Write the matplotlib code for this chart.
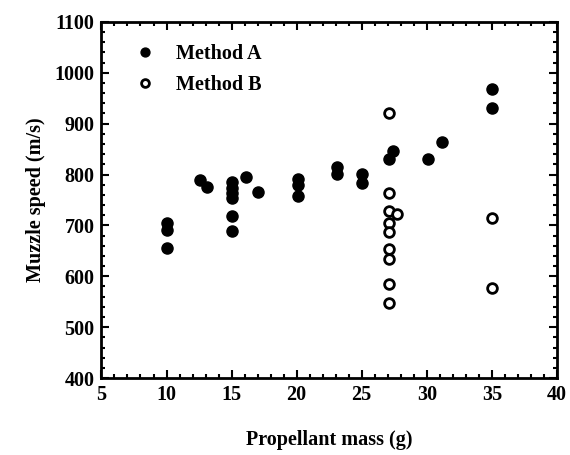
import matplotlib
matplotlib.use("Agg")
import matplotlib.pyplot as plt
from matplotlib.ticker import MultipleLocator

# Method A (filled)
a_mass = [10, 10, 10, 12.6, 13.1, 15, 15, 15, 15, 15, 15, 16.1, 17.05,
          20.1, 20.1, 20.1, 23.1, 23.1, 25.05, 25.05, 27.1, 27.4, 30.1, 31.2, 35, 35]
a_speed = [704, 691, 656, 789, 775, 786, 773, 763, 753, 718, 690, 795, 766,
           792, 779, 758, 815, 801, 802, 784, 830, 847, 830, 864, 969, 930]
# Method B (open)
b_mass = [27.1, 27.1, 27.1, 27.7, 27.1, 27.1, 27.1, 27.1, 27.1, 27.1, 35, 35]
b_speed = [921, 764, 728, 722, 704, 688, 654, 634, 584, 547, 714, 578]

xticks = [5, 10, 15, 20, 25, 30, 35, 40]
yticks = [400, 500, 600, 700, 800, 900, 1000, 1100]

plt.rcParams['font.family'] = ['Liberation Serif', 'DejaVu Serif']
plt.rcParams['font.weight'] = 'bold'

fig = plt.figure(figsize=(5.7, 4.55), dpi=100)
ax = fig.add_axes([0.178, 0.169, 0.799, 0.783])

ax.plot(a_mass, a_speed, 'o', color='black', markersize=8, label='Method A', linestyle='none')
ax.plot(b_mass, b_speed, 'o', markerfacecolor='white', markeredgecolor='black',
        markeredgewidth=2, markersize=7, label='Method B', linestyle='none')

ax.set_xlim(5, 40)
ax.set_ylim(400, 1100)
ax.set_xticks(xticks)
ax.set_yticks(yticks)
ax.xaxis.set_minor_locator(MultipleLocator(1))
ax.yaxis.set_minor_locator(MultipleLocator(20))
ax.tick_params(which='both', direction='in', top=True, right=True, width=1.5, labelsize=14.5, pad=5)
ax.tick_params(which='major', length=6)
ax.tick_params(which='minor', length=3)
for s in ax.spines.values():
    s.set_linewidth(2)
for lbl in ax.get_xticklabels() + ax.get_yticklabels():
    lbl.set_fontweight('bold')

ax.set_xlabel('Propellant mass (g)', fontsize=14.5, fontweight='bold', labelpad=18)
ax.set_ylabel('Muzzle speed (m/s)', fontsize=14.5, fontweight='bold', labelpad=6)

leg = ax.legend(loc='upper left', frameon=False, fontsize=14.5, markerscale=0.8,
                handletextpad=0.5, borderaxespad=0.6, labelspacing=0.55,
                bbox_to_anchor=(0.008, 0.995))
for t in leg.get_texts():
    t.set_fontweight('bold')

fig.savefig('out.png', dpi=100)
